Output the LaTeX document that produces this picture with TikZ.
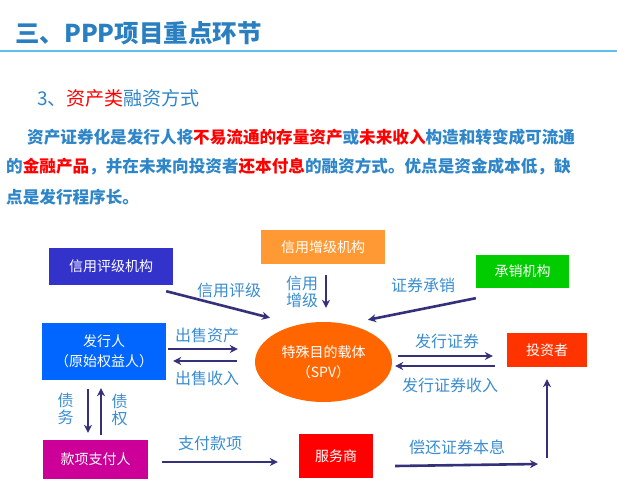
\documentclass[tikz,border=0pt]{standalone}
\usepackage{fontspec}
\setmainfont{Noto Sans CJK SC}
\usetikzlibrary{arrows.meta,shapes.geometric}
\definecolor{titleblue}{HTML}{2A7FC0}
\definecolor{textblue}{HTML}{2E86C8}
\definecolor{labelblue}{HTML}{3A8DD0}
\definecolor{rulecol}{HTML}{5BC0EB}
\definecolor{arrowcol}{HTML}{35307A}
\definecolor{ratingcol}{HTML}{3333CC}
\definecolor{enhancecol}{HTML}{FF9933}
\definecolor{underwritecol}{HTML}{00CC00}
\definecolor{issuercol}{HTML}{0066FF}
\definecolor{spvcol}{HTML}{FF6600}
\definecolor{investorcol}{HTML}{FF3300}
\definecolor{payercol}{HTML}{CC0099}
\definecolor{servicercol}{HTML}{FF0000}
\newcommand{\redtext}[1]{\textcolor{red}{#1}}
\begin{document}
\begin{tikzpicture}[
x=1pt,y=-1pt,
box/.style={text=white,inner sep=0pt,font=\fontsize{14}{20}\selectfont,align=center},
lbl/.style={text=labelblue,inner sep=0pt,font=\fontsize{16}{17}\selectfont,align=center},
para/.style={anchor=west,inner sep=0pt,text=textblue,font=\fontsize{16.6}{20}\selectfont\bfseries},
arr/.style={-{Stealth[length=8pt,width=8pt]},line width=2.6pt,draw=arrowcol}
]
\useasboundingbox (0,0) rectangle (617,500);

% heading and text
\node[anchor=west,inner sep=0pt,text=titleblue,font=\fontsize{24.5}{27}\selectfont\bfseries] (title) at (15,33) {三、PPP项目重点环节};
\draw[rulecol,line width=2pt] (0,51) -- (617,51);
\node[anchor=west,inner sep=0pt,text=textblue,font=\fontsize{19}{21}\selectfont] (heading) at (37,98) {3、\redtext{资产类}融资方式};
\node[para] (line1) at (27,137) {资产证券化是发行人将\redtext{不易流通的存量资产}或\redtext{未来收入}构造和转变成可流通};
\node[para] (line2) at (6,167) {的\redtext{金融产品}，并在未来向投资者\redtext{还本付息}的融资方式。优点是资金成本低，缺};
\node[para] (line3) at (6,197) {点是发行程序长。};

% boxes
\node[box,fill=ratingcol,minimum width=124pt,minimum height=37pt] (rating) at (111,266.5) {信用评级机构};
\node[box,fill=enhancecol,minimum width=124pt,minimum height=34pt] (enhance) at (323,247) {信用增级机构};
\node[box,fill=underwritecol,minimum width=93pt,minimum height=33pt] (underwrite) at (522.5,271.5) {承销机构};
\node[box,fill=issuercol,minimum width=124pt,minimum height=57pt] (issuer) at (104,351.5) {发行人\\（原始权益人）};
\node[box,ellipse,fill=spvcol,minimum width=137pt,minimum height=80pt] (spv) at (323.5,362) {特殊目的载体\\（SPV）};
\node[box,fill=investorcol,minimum width=80pt,minimum height=34pt] (investor) at (547,350) {投资者};
\node[box,fill=payercol,minimum width=105pt,minimum height=39pt] (payer) at (95.5,459.5) {款项支付人};
\node[box,fill=servicercol,minimum width=74pt,minimum height=44pt] (servicer) at (336,456) {服务商};
\coordinate (bend) at (547,464);

% labels
\node[lbl] (lrating) at (229,290) {信用评级};
\node[lbl] (lenhance) at (302,292) {信用\\增级};
\node[lbl] (lunderwrite) at (423,285) {证券承销};
\node[lbl] (lsellasset) at (207,335) {出售资产};
\node[lbl] (lsellincome) at (207,378) {出售收入};
\node[lbl] (lissue) at (447,341) {发行证券};
\node[lbl] (lissueincome) at (450,385) {发行证券收入};
\node[lbl] (ldebt) at (65.5,409) {债\\务};
\node[lbl] (lclaim) at (119.5,410) {债\\权};
\node[lbl] (lpay) at (210,443) {支付款项};
\node[lbl] (lrepay) at (457,447) {偿还证券本息};

% connectors
\draw[arr] ([shift={(-7,6)}]rating.south east) -- ([shift={(-53.5,-4)}]spv.north);
\draw[arr] ([shift={(3,11)}]enhance.south) -- ([shift={(2.5,-14)}]spv.north);
\draw[arr] ([shift={(0,10)}]underwrite.south west) -- ([shift={(44.5,-2)}]spv.north);
\draw[arr] ([shift={(2,-2.5)}]issuer.east) -- ([shift={(-17,-13)}]spv.west);
\draw[arr] ([shift={(-18,-1)}]spv.west) -- ([shift={(7,9.5)}]issuer.east);
\draw[arr] ([shift={(6,-6)}]spv.east) -- ([shift={(-14,6)}]investor.west);
\draw[arr] ([shift={(-12,16)}]investor.west) -- ([shift={(3,4)}]spv.east);
\draw[arr] ([shift={(-16,9)}]issuer.south) -- ([shift={(-7.5,-7)}]payer.north);
\draw[arr] ([shift={(5.5,-5)}]payer.north) -- ([shift={(-3,8)}]issuer.south);
\draw[arr] ([shift={(14,2.5)}]payer.east) -- ([shift={(-21,6)}]servicer.west);
\draw[arr] ([shift={(22,10)}]servicer.east) -- ([shift={(-9,0)}]bend);
\draw[arr] ([shift={(0,-6)}]bend) -- ([shift={(0,12)}]investor.south);
\end{tikzpicture}
\end{document}
